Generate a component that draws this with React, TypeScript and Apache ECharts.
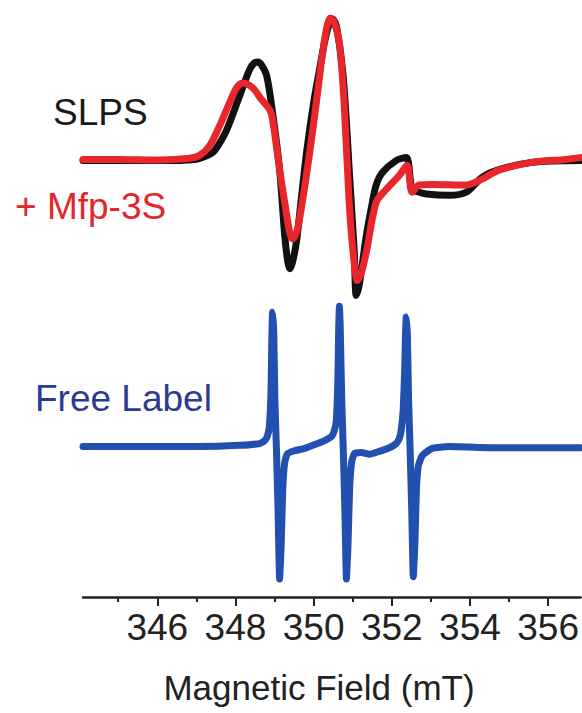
import React, { useEffect, useRef } from "react";
import * as echarts from "echarts";

// Magnetic field axis (mT)
const fieldMin = 344.1;
const fieldMax = 356.83;
const majorTicks = [346, 348, 350, 352, 354, 356];
const minorTicks = [345, 347, 349, 351, 353, 355];

// Vertical offsets of the stacked spectra (a.u.)
const topOffset = 73.3;
const freeOffset = 25.2;

// SLPS spectrum
const slpsField = [
  344.1, 345.05, 346.07, 346.96, 347.22, 347.43, 347.6, 347.78, 348.11, 348.36,
  348.49, 348.57, 348.67, 348.8, 348.95, 349.13, 349.26, 349.34, 349.39, 349.46,
  349.56, 349.69, 349.82, 350.0, 350.15, 350.3, 350.41, 350.48, 350.58, 350.74,
  350.84, 350.91, 351.04, 351.09, 351.17, 351.35, 351.48, 351.6, 351.76, 352.11,
  352.37, 352.52, 352.7, 352.88, 353.47, 353.9, 354.31, 354.74, 355.59, 356.83,
];
const slpsSignal = [
  -0.2, -0.2, -0.2, 0, 0.5, 1.2, 2.8, 5.0, 10.7, 15.0,
  16.2, 16.3, 15.8, 14.0, 7.8, -1.7, -12.7, -17.2, -18.3, -17.2,
  -13.8, -6.3, 1.2, 9.5, 15.0, 20.3, 22.9, 23.5, 22.4, 15.0,
  6.2, -1.7, -15.5, -22.8, -20.9, -12.7, -8.0, -4.3, -2.2, -0.2,
  0.3, -5.0, -5.5, -5.8, -6.0, -5.5, -3.0, -1.7, -0.5, -0.2,
];

// SLPS + Mfp-3S spectrum
const mfpField = [
  344.1, 345.05, 346.07, 346.83, 347.09, 347.34, 347.6, 347.85, 348.03, 348.19,
  348.44, 348.67, 348.88, 348.95, 349.13, 349.26, 349.39, 349.46, 349.56, 349.64,
  349.77, 349.9, 350.07, 350.23, 350.35, 350.43, 350.53, 350.66, 350.78, 350.91,
  351.01, 351.12, 351.22, 351.35, 351.6, 351.86, 352.19, 352.39, 352.52, 352.7,
  353.03, 353.9, 354.31, 354.74, 355.59, 356.45, 356.83,
];
const mfpSignal = [
  0, 0, -0.1, 0.2, 0.7, 2.3, 5.7, 9.5, 12.0, 12.8,
  12.0, 10.0, 8.3, 6.7, -1.7, -7.2, -12.3, -13.3, -12.3, -10.0,
  -4.7, 1.2, 9.5, 17.8, 22.5, 23.7, 22.9, 19.5, 9.5, -7.2,
  -15.5, -20.3, -19.0, -15.5, -7.2, -5.0, -2.7, -1.0, -5.5, -4.3,
  -4.2, -4.3, -3.3, -1.8, -0.5, 0, 0.3,
];

// Free spin label spectrum
const freeField = [
  344.1, 345.81, 347.09, 348.11, 348.62, 348.75, 348.82, 348.87, 348.91, 348.93,
  348.95, 348.98, 349.01, 349.05, 349.09, 349.13, 349.17, 349.21, 349.26, 349.33,
  349.51, 349.77, 350.02, 350.28, 350.46, 350.53, 350.58, 350.62, 350.64, 350.66,
  350.68, 350.72, 350.76, 350.8, 350.84, 350.88, 350.92, 350.97, 351.04, 351.22,
  351.43, 351.68, 351.94, 352.11, 352.19, 352.24, 352.29, 352.33, 352.35, 352.37,
  352.4, 352.43, 352.47, 352.51, 352.55, 352.59, 352.63, 352.68, 352.78, 353.03,
  353.47, 354.74, 356.83,
];
const freeSignal = [
  0, 0, 0, 0.2, 0.5, 1.0, 1.8, 3.5, 9.3, 17.7,
  22.5, 19.3, 7.7, -0.7, -10.7, -22.2, -16.5, -7.3, -2.7, -1.2,
  -0.7, -0.3, 0.3, 1.0, 1.7, 2.7, 4.3, 11.0, 19.3, 23.5,
  20.2, 7.7, -0.7, -10.7, -22.2, -16.5, -7.3, -2.7, -1.2, -1.0,
  -1.3, -0.8, -0.2, 0.5, 1.3, 2.7, 6.0, 12.7, 18.5, 21.7,
  18.5, 7.7, -0.7, -10.7, -21.8, -16.5, -7.3, -3.2, -1.5, -0.3,
  0, -0.2, -0.2,
];

const zip = (xs: number[], ys: number[], off: number) =>
  xs.map((x, i) => [x, ys[i] + off]);

const FONT = '"Liberation Sans", Arial, Helvetica, sans-serif';

export default function App() {
  const ref = useRef<HTMLDivElement>(null);

  useEffect(() => {
    document.body.style.margin = "0";
    const chart = echarts.init(ref.current!, null, { renderer: "svg" });

    const axisBase = {
      type: "value",
      min: fieldMin,
      max: fieldMax,
      position: "bottom",
      splitLine: { show: false },
    };

    chart.setOption({
      animation: false,
      backgroundColor: "#ffffff",
      grid: { left: 83, right: 0, top: -3, bottom: 116 },
      xAxis: [
        {
          ...axisBase,
          axisLine: { show: true, lineStyle: { color: "#222", width: 2.5 } },
          axisTick: {
            show: true,
            customValues: majorTicks,
            length: 9,
            lineStyle: { color: "#222", width: 2 },
          },
          axisLabel: {
            show: true,
            customValues: majorTicks,
            margin: 12,
            color: "#222",
            fontSize: 37,
            fontFamily: FONT,
          },
        },
        {
          ...axisBase,
          axisLine: { show: false },
          axisTick: {
            show: true,
            customValues: minorTicks,
            length: 5,
            lineStyle: { color: "#222", width: 2 },
          },
          axisLabel: { show: false },
        },
      ],
      yAxis: {
        type: "value",
        min: 0,
        max: 100,
        show: false,
        splitLine: { show: false },
      },
      series: [
        {
          name: "SLPS",
          type: "line",
          data: zip(slpsField, slpsSignal, topOffset),
          showSymbol: false,
          smooth: 0.3,
          lineStyle: { color: "#111111", width: 7, cap: "round", join: "round" },
          z: 2,
        },
        {
          name: "+ Mfp-3S",
          type: "line",
          data: zip(mfpField, mfpSignal, topOffset),
          showSymbol: false,
          smooth: 0.3,
          lineStyle: { color: "#e8262b", width: 7, cap: "round", join: "round" },
          z: 3,
        },
        {
          name: "Free Label",
          type: "line",
          data: zip(freeField, freeSignal, freeOffset),
          showSymbol: false,
          smooth: 0.15,
          lineStyle: { color: "#2150b0", width: 7, cap: "round", join: "round" },
          z: 2,
        },
      ],
      graphic: [
        {
          type: "text",
          style: {
            text: "SLPS",
            x: 53,
            y: 112,
            textAlign: "left",
            textVerticalAlign: "middle",
            font: `37px ${FONT}`,
            fill: "#1a1a1a",
          },
        },
        {
          type: "text",
          style: {
            text: "+ Mfp-3S",
            x: 15,
            y: 206,
            textAlign: "left",
            textVerticalAlign: "middle",
            font: `37px ${FONT}`,
            fill: "#e3262b",
          },
        },
        {
          type: "text",
          style: {
            text: "Free Label",
            x: 35,
            y: 398,
            textAlign: "left",
            textVerticalAlign: "middle",
            font: `37px ${FONT}`,
            fill: "#2c3b92",
          },
        },
        {
          type: "text",
          style: {
            text: "Magnetic Field (mT)",
            x: 319,
            y: 687,
            textAlign: "center",
            textVerticalAlign: "middle",
            font: `35px ${FONT}`,
            fill: "#222",
          },
        },
      ],
    });

    return () => chart.dispose();
  }, []);

  return <div ref={ref} style={{ width: 582, height: 713 }} />;
}
